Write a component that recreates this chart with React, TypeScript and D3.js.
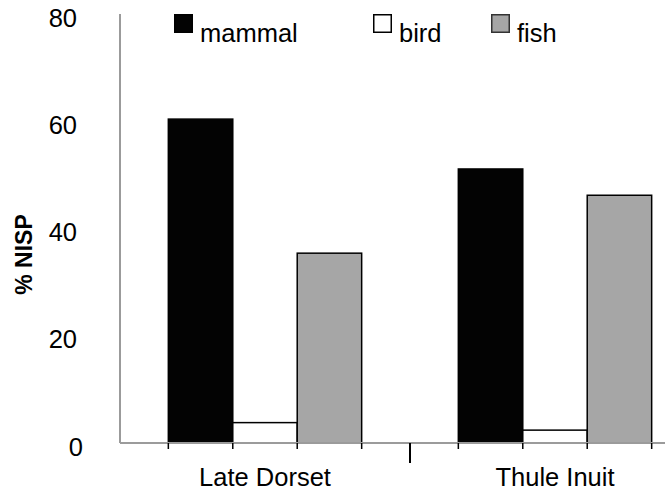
import { useEffect, useRef } from "react";
import * as d3 from "d3";

// data
const periods = ["Late Dorset", "Thule Inuit"];
const taxa = ["mammal", "bird", "fish"];
const mammal = [60.4, 51.1];
const bird = [3.8, 2.4];
const fish = [35.4, 46.2];
const yTicks = [0, 20, 40, 60, 80];

const fills = { mammal: "#030303", bird: "#ffffff", fish: "#a6a6a6" };
const legendX = [174, 373, 491];

export default function App() {
  const width = 665;
  const height = 493;
  const marginLeft = 120;
  const marginTop = 14;
  const axisY = 443;
  const font = "'Liberation Sans', Arial, sans-serif";

  const gx = useRef(null);

  const x = d3.scaleBand().domain(periods).range([marginLeft, marginLeft + 580]);
  const x1 = d3.scaleBand().domain(taxa).range([0, x.bandwidth()]).paddingOuter(0.75);
  const y = d3.scaleLinear().domain([0, 80]).range([axisY, marginTop]);

  const series = { mammal, bird, fish };

  useEffect(() => {
    const g = d3.select(gx.current);
    g.selectAll("*").remove();
    // short ticks at every bar edge
    const edges = [];
    periods.forEach((p) => {
      taxa.forEach((t) => edges.push(x(p) + x1(t)));
      edges.push(x(p) + x1("fish") + x1.bandwidth());
    });
    g.selectAll("line.edge")
      .data(edges)
      .join("line")
      .attr("class", "edge")
      .attr("x1", (d) => d)
      .attr("x2", (d) => d)
      .attr("y1", axisY)
      .attr("y2", axisY + 6)
      .attr("stroke", "#000")
      .attr("stroke-width", 1.5);
    // long tick between categories
    g.selectAll("line.sep")
      .data(periods.slice(1))
      .join("line")
      .attr("class", "sep")
      .attr("x1", (d) => x(d))
      .attr("x2", (d) => x(d))
      .attr("y1", axisY)
      .attr("y2", axisY + 20)
      .attr("stroke", "#000")
      .attr("stroke-width", 2);
  }, []);

  return (
    <svg
      width={width}
      height={height}
      style={{ position: "absolute", left: 0, top: 0, background: "#fff" }}
      fontFamily={font}
    >
      {/* bars */}
      {periods.map((p, i) => (
        <g key={p} transform={`translate(${x(p)},0)`}>
          {taxa.map((t) => (
            <rect
              key={t}
              x={x1(t)}
              y={y(series[t][i])}
              width={x1.bandwidth()}
              height={axisY - y(series[t][i])}
              fill={fills[t]}
              stroke="#000"
              strokeWidth={1.5}
            />
          ))}
        </g>
      ))}

      {/* axes */}
      <line x1={marginLeft} x2={marginLeft} y1={y(80)} y2={axisY} stroke="#9b9b9b" strokeWidth={2} />
      <line x1={marginLeft} x2={width} y1={axisY} y2={axisY} stroke="#9b9b9b" strokeWidth={2} />
      <g ref={gx} />

      {/* y tick labels */}
      {yTicks.map((t) => (
        <text
          key={t}
          x={t === 0 ? 83 : 77}
          y={y(t) + 6}
          textAnchor="end"
          dominantBaseline="middle"
          fontSize={25.5}
          fill="#000"
        >
          {t}
        </text>
      ))}

      {/* y title */}
      <text
        transform={`translate(32,${y(40) + 26}) rotate(-90)`}
        textAnchor="middle"
        fontSize={23}
        fontWeight="bold"
        fill="#000"
      >
        % NISP
      </text>

      {/* category labels */}
      {periods.map((p) => (
        <text key={p} x={x(p) + x.bandwidth() / 2} y={486} textAnchor="middle" fontSize={25.5} fill="#000">
          {p}
        </text>
      ))}

      {/* legend */}
      {taxa.map((t, i) => (
        <g key={t} transform={`translate(${legendX[i]},14)`}>
          <rect
            x={0.75}
            y={0.75}
            width={17.5}
            height={17.5}
            fill={fills[t]}
            stroke={t === "fish" ? "#333" : "#000"}
            strokeWidth={1.5}
          />
          <text x={26} y={27.5} fontSize={25.5} fill="#000">
            {t}
          </text>
        </g>
      ))}
    </svg>
  );
}
